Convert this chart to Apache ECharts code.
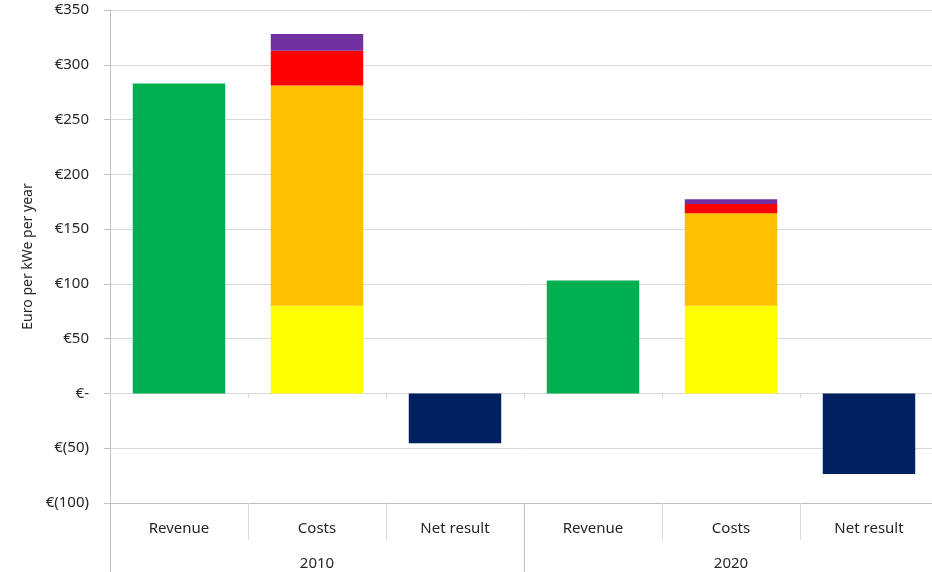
<!DOCTYPE html>
<html>
<head>
<meta charset="utf-8">
<script src="https://cdn.jsdelivr.net/npm/echarts@6/dist/echarts.min.js"></script>
<style>
html,body{margin:0;padding:0;background:#fff;}
#chart{width:932px;height:572px;}
</style>
</head>
<body>
<div id="chart"></div>
<script>
const categories = ["Revenue", "Costs", "Net result", "Revenue", "Costs", "Net result"];
const years = ["2010", "2020"];
const yTicks = [-100, -50, 0, 50, 100, 150, 200, 250, 300, 350];
const yTitle = "Euro per kWe per year";

const revenue   = [283, null, null, 103, null, null];
const costsBase = [null, 80, null, null, 80, null];
const costsMid  = [null, 201, null, null, 84.5, null];
const costsRed  = [null, 31.7, null, null, 8.4, null];
const costsTop  = [null, 15.4, null, null, 4.3, null];
const netResult = [null, null, -45.5, null, null, -73.5];

const seriesDefs = [
  { name: "Revenue", data: revenue, color: "#00B050" },
  { name: "Cost 1", data: costsBase, color: "#FFFF00" },
  { name: "Cost 2", data: costsMid, color: "#FFC000" },
  { name: "Cost 3", data: costsRed, color: "#FF0000" },
  { name: "Cost 4", data: costsTop, color: "#7030A0" },
  { name: "Net result", data: netResult, color: "#002060" }
];

const font = "Noto Sans";
const textColor = "#262626";

const chart = echarts.init(document.getElementById('chart'));
chart.setOption({
  animation: false,
  backgroundColor: "#fff",
  grid: { left: 110, width: 828, top: 10, bottom: 69, containLabel: false, outerBoundsMode: 'none' },
  xAxis: [
    {
      type: "category", data: categories, position: "bottom",
      axisLine: { onZero: false, lineStyle: { color: "#bfbfbf" } },
      axisTick: { show: true, length: 37, lineStyle: { color: "#d9d9d9" } },
      axisLabel: { margin: 18, fontFamily: font, fontSize: 15, color: textColor },
      splitLine: { show: false }
    },
    {
      type: "category", data: years, position: "bottom",
      axisLine: { onZero: false, show: false },
      axisTick: { show: true, length: 70, lineStyle: { color: "#bfbfbf" } },
      axisLabel: { margin: 53, fontFamily: font, fontSize: 15, color: textColor },
      splitLine: { show: false }
    },
    {
      type: "category", data: categories, position: "bottom",
      axisLine: { onZero: true, lineStyle: { color: "#d9d9d9" } },
      axisTick: { show: true, length: 5, lineStyle: { color: "#d9d9d9" } },
      axisLabel: { show: false },
      splitLine: { show: false }
    }
  ],
  yAxis: {
    type: "value", min: yTicks[0], max: yTicks[yTicks.length - 1], interval: 50,
    name: yTitle, nameLocation: "middle", nameGap: 75,
    nameTextStyle: { fontFamily: font, fontSize: 14, color: textColor },
    axisLine: { show: true, lineStyle: { color: "#bfbfbf" } },
    axisTick: { show: true, length: 6, lineStyle: { color: "#bfbfbf" } },
    axisLabel: {
      margin: 21, fontFamily: font, fontSize: 15, color: textColor,
      formatter: function (v) {
        if (v === 0) return "€-";
        if (v < 0) return "€(" + (-v) + ")";
        return "€" + v;
      }
    },
    splitLine: { show: true, lineStyle: { color: "#d9d9d9" } }
  },
  series: seriesDefs.map(function (s) {
    return {
      name: s.name, type: "bar", stack: "all", xAxisIndex: 0,
      data: s.data, barCategoryGap: "33%",
      itemStyle: { color: s.color }
    };
  })
});
</script>
</body>
</html>
